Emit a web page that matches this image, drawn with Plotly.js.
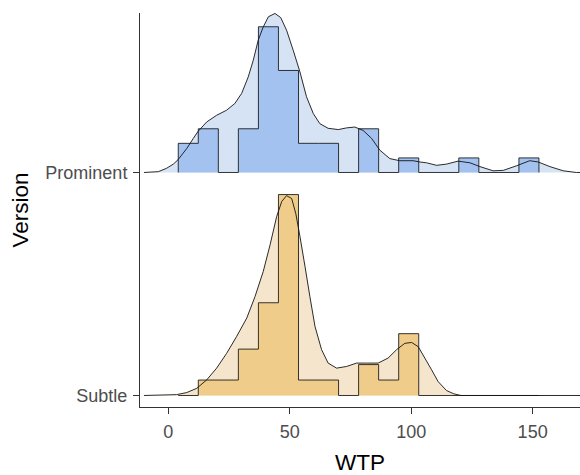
<!DOCTYPE html>
<html>
<head>
<meta charset="utf-8">
<script src="https://cdn.plot.ly/plotly-3.0.1.min.js"></script>
<style>
  html, body { margin: 0; padding: 0; background: #fff; }
  #chart { width: 580px; height: 475px; }
</style>
</head>
<body>
<div id="chart"></div>
<script>
// Ridge categories (bottom to top) and their baseline positions on the y axis
const versions = ['Subtle', 'Prominent'];
const versionPos = [1, 2];

// Shared histogram bin edges (WTP)
const binEdges = [4.1, 12.35, 20.6, 28.85, 37.1, 45.35, 53.6, 61.85, 70.1, 78.35,
                  86.6, 94.85, 103.1, 111.35, 119.6, 127.85, 136.1, 144.35, 152.6];

// Counts per bin
const countsProminent = [2, 3, 0, 3, 10, 7, 2, 2, 0, 3, 0, 1, 0, 0, 1, 0, 0, 1];
const countsSubtle    = [0, 1, 1, 3, 6, 13, 1, 1, 0, 2, 1, 4, 0, 0, 0, 0, 0, 0];

// Kernel density estimates (WTP, density)
const densXProminent = [-10, -4.1, -0.7, 2.1, 4.1, 7.6, 10.3, 12.3, 15.8, 19.9, 24.0, 27.4,
  30.2, 32.9, 35.0, 37.0, 39.1, 41.2, 43.9, 46.3, 48.7, 51.4, 54.2, 56.9, 59.7, 62.4,
  65.8, 70.0, 73.4, 76.8, 80.2, 83.7, 87.1, 91.2, 95.3, 100.8, 103.6, 106.3, 110.5,
  114.6, 119.3, 124.2, 128.3, 133.7, 137.9, 143.4, 148.8, 152.3, 157.1, 162.6, 168, 174];
const densYProminent = [0, 0.0002, 0.0010, 0.0020, 0.0031, 0.0057, 0.0081, 0.0098, 0.0120,
  0.0136, 0.0148, 0.0164, 0.0188, 0.0227, 0.0267, 0.0314, 0.0346, 0.0370, 0.0378, 0.0368,
  0.0338, 0.0291, 0.0239, 0.0180, 0.0140, 0.0116, 0.0105, 0.0102, 0.0106, 0.0108, 0.0100,
  0.0081, 0.0053, 0.0033, 0.0028, 0.0028, 0.0025, 0.0023, 0.0017, 0.0020, 0.0027, 0.0023,
  0.0014, 0.0004, 0.0005, 0.0016, 0.0028, 0.0025, 0.0014, 0.0004, 0, 0];

const densXSubtle = [-10, 3.4, 7.6, 11.7, 15.8, 19.9, 24.0, 28.1, 32.3, 35.7, 39.1, 41.9,
  44.6, 46.7, 48.7, 50.8, 52.5, 54.2, 56.3, 58.3, 60.4, 63.1, 65.8, 69.3, 73.4, 77.5,
  81.6, 86.4, 90.5, 94.0, 97.4, 100.2, 102.9, 105.6, 108.4, 111.1, 114.5, 117.5, 120.5, 174];
const densYSubtle = [0, 0.0002, 0.0007, 0.0017, 0.0037, 0.0065, 0.0100, 0.0140, 0.0184,
  0.0235, 0.0295, 0.0358, 0.0425, 0.0461, 0.0475, 0.0468, 0.0432, 0.0378, 0.0306, 0.0235,
  0.0164, 0.0109, 0.0077, 0.0065, 0.0069, 0.0077, 0.0077, 0.0077, 0.0089, 0.0109, 0.0124,
  0.0126, 0.0116, 0.0089, 0.0061, 0.0033, 0.0012, 0.0004, 0, 0];

// X axis ticks
const xTicks = [0, 50, 100, 150];

// Ridge height: y-axis units per unit of density
const ridgeScale = 18.87;

const groups = [
  { name: 'Prominent', base: versionPos[1], counts: countsProminent,
    dx: densXProminent, dy: densYProminent,
    light: '#d5e3f4', dark: '#a4c2f0' },
  { name: 'Subtle', base: versionPos[0], counts: countsSubtle,
    dx: densXSubtle, dy: densYSubtle,
    light: '#f5e5cd', dark: '#f0cc8b' }
];

const traces = [];
groups.forEach(g => {
  const n = g.counts.reduce((a, b) => a + b, 0);
  const ridgeY = g.dy.map(d => g.base + d * ridgeScale);

  // density area
  const fx = g.dx.slice(), fy = ridgeY.slice();
  fx.push(g.dx[g.dx.length - 1], g.dx[0]);
  fy.push(g.base, g.base);
  traces.push({ x: fx, y: fy, type: 'scatter', mode: 'lines', fill: 'toself',
    fillcolor: g.light, line: { width: 0 },
    hoverinfo: 'skip', showlegend: false });

  // histogram outline (density-scaled step line)
  const hx = [binEdges[0]], hy = [g.base];
  g.counts.forEach((c, i) => {
    const w = binEdges[i + 1] - binEdges[i];
    const h = g.base + c / (n * w) * ridgeScale;
    hx.push(binEdges[i], binEdges[i + 1]);
    hy.push(h, h);
  });
  hx.push(binEdges[binEdges.length - 1]);
  hy.push(g.base);
  traces.push({ x: hx, y: hy, type: 'scatter', mode: 'lines', fill: 'toself',
    fillcolor: g.dark, line: { color: 'rgba(20,20,20,0.85)', width: 1 },
    hoverinfo: 'skip', showlegend: false });

  // density line
  traces.push({ x: g.dx, y: ridgeY, type: 'scatter',
    mode: 'lines', line: { color: 'rgba(20,20,20,0.9)', width: 1, shape: 'linear', simplify: false },
    hoverinfo: 'skip', showlegend: false });
});

const layout = {
  width: 580, height: 475,
  margin: { l: 140, r: 0, t: 13, b: 68 },
  paper_bgcolor: '#fff', plot_bgcolor: '#fff',
  font: { family: 'Liberation Sans, Arial, sans-serif', color: '#4d4d4d', size: 18 },
  showlegend: false,
  xaxis: {
    range: [-11.65, 169.5],
    tickvals: xTicks, ticktext: xTicks.map(String),
    showgrid: false, zeroline: false,
    showline: true, linecolor: '#333', linewidth: 1,
    ticks: 'outside', ticklen: 6, tickcolor: '#333', tickwidth: 1,
    ticklabelstandoff: 2,
    tickfont: { size: 18, color: '#4d4d4d' },
    title: { text: 'WTP', font: { size: 22.5, color: '#000' }, standoff: 19 }
  },
  yaxis: {
    range: [0.9484, 2.7152],
    tickvals: versionPos, ticktext: versions,
    showgrid: false, zeroline: false,
    showline: true, linecolor: '#333', linewidth: 1,
    ticks: 'outside', ticklen: 6, tickcolor: '#333', tickwidth: 1,
    ticklabelstandoff: 2,
    tickfont: { size: 18, color: '#4d4d4d' },
    title: { text: 'Version', font: { size: 22.5, color: '#000' }, standoff: 10 }
  }
};

Plotly.newPlot('chart', traces, layout, { displayModeBar: false, staticPlot: true });
</script>
</body>
</html>
